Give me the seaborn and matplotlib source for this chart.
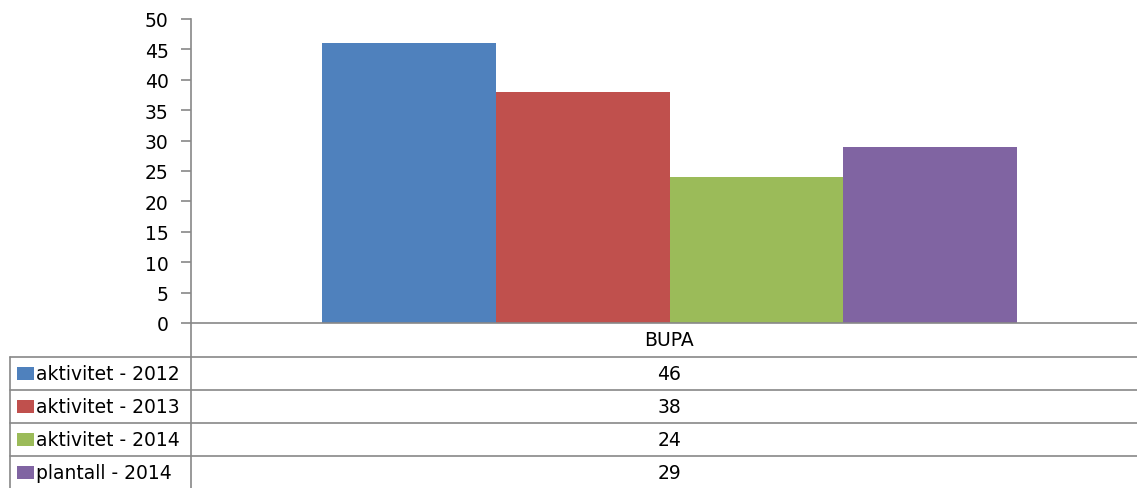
import matplotlib
matplotlib.use("Agg")
import matplotlib.pyplot as plt
import seaborn as sns
import pandas as pd
from matplotlib.lines import Line2D
from matplotlib.patches import Rectangle

# Data
categories = ["BUPA"]
series = ["aktivitet - 2012", "aktivitet - 2013", "aktivitet - 2014", "plantall - 2014"]
values = [46, 38, 24, 29]
colors = ["#4F81BD", "#C0504D", "#9BBB59", "#8064A2"]
yticks = [0, 5, 10, 15, 20, 25, 30, 35, 40, 45, 50]

df = pd.DataFrame({"kategori": categories * len(series), "serie": series, "verdi": values})

sns.set_theme(style="white")
plt.rcParams["font.family"] = ["DejaVu Sans"]
plt.rcParams["text.color"] = "black"

W, H = 1137, 489
FS = 13.5
fig = plt.figure(figsize=(W / 100, H / 100), dpi=100)

def fx(px):
    return px / W

def fy(py):
    return 1 - py / H

ax_left, ax_right, ax_top, ax_bottom = 191, 1148, 20, 324
ax = fig.add_axes([fx(ax_left), fy(ax_bottom), (ax_right - ax_left) / W, (ax_bottom - ax_top) / H])

sns.barplot(data=df, x="kategori", y="verdi", hue="serie", palette=colors,
            width=0.726, ax=ax, legend=False, saturation=1, edgecolor="none")

ax.set_xlim(-0.5, 0.5)
ax.set_ylim(0, 50)
ax.set_yticks(yticks)
ax.set_xticks([])
ax.set_xlabel("")
ax.set_ylabel("")
grey = "#888888"
for side in ["top", "right"]:
    ax.spines[side].set_visible(False)
ax.spines["left"].set_color(grey)
ax.spines["bottom"].set_color(grey)
ax.spines["left"].set_linewidth(1.2)
ax.spines["bottom"].set_linewidth(1.2)
ax.tick_params(axis="y", direction="out", length=7, width=1.2, color=grey,
               labelsize=FS, labelcolor="black", pad=9, left=True)

# Data table beneath the axes
line_kw = dict(color=grey, linewidth=1.2, transform=fig.transFigure)
# vertical axis line continues down through the table
fig.add_artist(Line2D([fx(191), fx(191)], [fy(324), fy(489)], **line_kw))
# left edge of series column
fig.add_artist(Line2D([fx(10), fx(10)], [fy(358), fy(489)], **line_kw))
row_tops = [358, 391, 424, 457]
for yt in row_tops:
    fig.add_artist(Line2D([fx(10), fx(W)], [fy(yt), fy(yt)], **line_kw))

center_x = fx((ax_left + ax_right) / 2)
fig.text(center_x, fy(341), categories[0], ha="center", va="center", fontsize=FS, color="black")
for i, (name, val, col) in enumerate(zip(series, values, colors)):
    yc = row_tops[i] + 16.5
    fig.add_artist(Rectangle((fx(17), fy(yc + 6.5)), fx(17) - fx(0), 13 / H,
                             facecolor=col, edgecolor="none", transform=fig.transFigure))
    fig.text(fx(36), fy(yc), name, ha="left", va="center", fontsize=FS, color="black")
    fig.text(center_x, fy(yc), str(val), ha="center", va="center", fontsize=FS, color="black")

fig.savefig("out.png", dpi=100)
